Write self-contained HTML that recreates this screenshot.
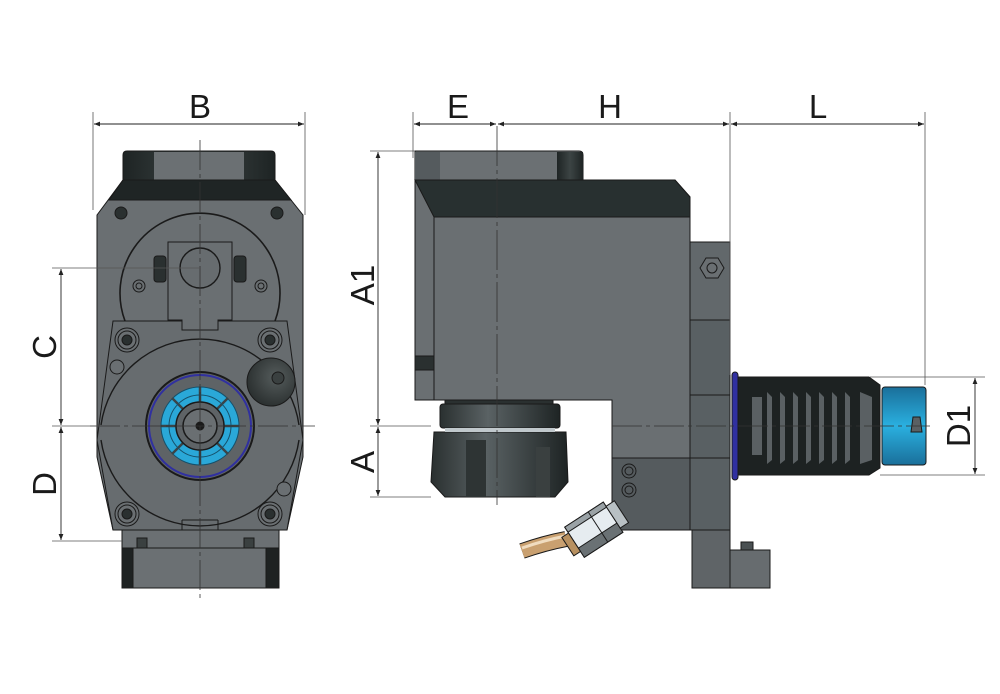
<!DOCTYPE html>
<html><head><meta charset="utf-8"><style>
html,body{margin:0;padding:0;background:#fff;}
svg{display:block;}
text{font-family:"Liberation Sans",sans-serif;fill:#1a1a1a;}
</style></head><body>
<svg width="1000" height="694" viewBox="0 0 1000 694" xmlns="http://www.w3.org/2000/svg">
<defs>
<marker id="ar" viewBox="0 0 10 10" refX="10" refY="5" markerWidth="8" markerHeight="6" orient="auto-start-reverse" markerUnits="userSpaceOnUse"><path d="M0,1 L10,5 L0,9 z" fill="#222"/></marker>
<linearGradient id="side" x1="0" x2="1"><stop offset="0" stop-color="#1e2424"/><stop offset="0.5" stop-color="#3c4444"/><stop offset="1" stop-color="#1e2424"/></linearGradient>
<linearGradient id="nut" x1="0" x2="1"><stop offset="0" stop-color="#2a3030"/><stop offset="0.4" stop-color="#5a6264"/><stop offset="1" stop-color="#1e2424"/></linearGradient>
<linearGradient id="blue" x1="0" y1="0" x2="0" y2="1"><stop offset="0" stop-color="#1a6f9a"/><stop offset="0.5" stop-color="#2ab0e0"/><stop offset="1" stop-color="#1a6f9a"/></linearGradient>
<radialGradient id="knob" cx="0.6" cy="0.4" r="0.7"><stop offset="0" stop-color="#555c5c"/><stop offset="1" stop-color="#262b2b"/></radialGradient>
</defs>

<g stroke="#1a1a1a" stroke-width="1">
<rect x="122" y="530" width="157" height="58" fill="#6b7073"/>
<rect x="122" y="548" width="11" height="40" fill="#1e2222"/>
<rect x="266" y="548" width="13" height="40" fill="#1e2222"/>
<line x1="122" y1="548" x2="279" y2="548"/>
<rect x="137" y="538" width="10" height="10" fill="#3a4040"/>
<rect x="244" y="538" width="10" height="10" fill="#3a4040"/>
<path d="M123,155 Q123,151 127,151 L271,151 Q275,151 275,155 L275,181 L123,181 Z" fill="url(#side)"/>
<rect x="154" y="152" width="90" height="28" fill="#6b7073" stroke="none"/>
<path d="M123,180 L275,180 L303,215 L303,457 L287,530 L113,530 L97,457 L97,215 Z" fill="#6a6f72"/>
<path d="M123,180 L275,180 L291,200 L109,200 Z" fill="#1f2525"/>
<path d="M125,321 A80,80 0 1,1 275,321" fill="none" stroke-width="1.6"/>
<path d="M113,321 L287,321 L303,440 L287,530 L113,530 L97,440 Z" fill="#676c6f" stroke-width="1"/>
<path d="M101,425 A100,100 0 0,1 299,425 M101,440 A100,100 0 0,0 299,440" fill="none" stroke-width="1.4"/>
<path d="M168,242 L232,242 L232,320 L218,320 L218,330 L182,330 L182,320 L168,320 Z" fill="#6a6f72"/>
<circle cx="200" cy="268" r="20" fill="#676c6f" stroke-width="1.4"/>
<rect x="154" y="256" width="12" height="26" rx="3" fill="#2a3030"/>
<rect x="234" y="256" width="12" height="26" rx="3" fill="#2a3030"/>
<circle cx="139" cy="286" r="6" fill="#6a6f72"/><circle cx="139" cy="286" r="3" fill="none"/>
<circle cx="261" cy="286" r="6" fill="#6a6f72"/><circle cx="261" cy="286" r="3" fill="none"/>
<circle cx="121" cy="213" r="6" fill="#2a3030"/>
<circle cx="277" cy="213" r="6" fill="#2a3030"/>
<g fill="#6a6f72">
<circle cx="127" cy="340" r="12"/><circle cx="127" cy="340" r="9"/>
<circle cx="270" cy="340" r="12"/><circle cx="270" cy="340" r="9"/>
<circle cx="127" cy="514" r="12"/><circle cx="127" cy="514" r="9"/>
<circle cx="270" cy="514" r="12"/><circle cx="270" cy="514" r="9"/>
</g>
<g fill="#2a3030">
<circle cx="127" cy="340" r="5"/><circle cx="270" cy="340" r="5"/><circle cx="127" cy="514" r="5"/><circle cx="270" cy="514" r="5"/>
</g>
<circle cx="117" cy="367" r="7" fill="#6a6f72"/>
<circle cx="284" cy="489" r="7" fill="#6a6f72"/>
<circle cx="271" cy="382" r="24" fill="url(#knob)"/>
<circle cx="278" cy="378" r="6" fill="#3a4040"/>
<circle cx="200" cy="426" r="54" fill="#5e6366" stroke-width="2"/>
<circle cx="200" cy="426" r="51" fill="none" stroke="#3030a0" stroke-width="2"/>
<circle cx="200" cy="426" r="39" fill="#2aa8d8" stroke="#15506a"/>
<g stroke="#3a4448" stroke-width="2.5">
<line x1="200" y1="387" x2="200" y2="465"/>
<line x1="161" y1="426" x2="239" y2="426"/>
<line x1="172" y1="398" x2="228" y2="454"/>
<line x1="228" y1="398" x2="172" y2="454"/>
</g>
<circle cx="200" cy="426" r="31" fill="none" stroke="#15506a"/>
<circle cx="200" cy="426" r="24" fill="#5e6366" stroke-width="1.5"/>
<circle cx="200" cy="426" r="17" fill="#6a6f72" stroke-width="1.5"/>
<circle cx="200" cy="426" r="4" fill="#1a1a1a"/>
<path d="M182,520 L182,530 M218,520 L218,530 M182,520 L218,520" fill="none"/>
</g>

<g stroke="#1a1a1a" stroke-width="1">
<path d="M415,151 L579,151 Q583,151 583,155 L583,181 L415,181 Z" fill="#6b7073"/>
<rect x="415" y="152" width="25" height="28" fill="#555b5e" stroke="none"/>
<rect x="557" y="152" width="26" height="28" fill="url(#side)" stroke="none"/>
<rect x="692" y="530" width="38" height="58" fill="#5f6467"/>
<rect x="730" y="550" width="40" height="38" fill="#676c6f"/>
<rect x="741" y="542" width="12" height="8" fill="#4a5052"/>
<path d="M415,180 L675,180 L690,197 L690,530 L612,530 L612,400 L415,400 Z" fill="#6a6f72"/>
<path d="M415,180 L675,180 L690,197 L690,217 L434,217 Z" fill="#283030"/>
<line x1="434" y1="217" x2="434" y2="400"/>
<rect x="415" y="356" width="19" height="14" fill="#2a3030"/>
<rect x="612" y="458" width="78" height="72" fill="#555b5e"/>
<circle cx="629" cy="471" r="7" fill="none"/><circle cx="629" cy="471" r="4" fill="none"/>
<circle cx="629" cy="490" r="7" fill="none"/><circle cx="629" cy="490" r="4" fill="none"/>
<rect x="690" y="242" width="40" height="288" fill="#596063"/>
<rect x="690" y="242" width="40" height="78" fill="#62686b"/>
<line x1="690" y1="395" x2="730" y2="395"/>
<line x1="690" y1="458" x2="730" y2="458"/>
<path d="M700,268 L706,258 L718,258 L724,268 L718,278 L706,278 Z" fill="#6a6f72"/>
<circle cx="712" cy="268" r="5" fill="none"/>
<rect x="445" y="400" width="108" height="5" fill="#2a3030"/>
<rect x="440" y="404" width="120" height="24" rx="3" fill="url(#nut)"/>
<path d="M434,432 L566,432 L568,482 L555,497 L445,497 L431,482 Z" fill="url(#nut)"/>
<rect x="466" y="440" width="20" height="57" fill="#2e3434" stroke="none"/>
<rect x="536" y="447" width="14" height="50" fill="#3a4040" stroke="none"/>
<rect x="445" y="428" width="110" height="4" fill="#c0c8cc" stroke="none"/>
<!-- coolant fitting -->
<path d="M522,551 Q545,543 566,539" fill="none" stroke="#1a1a1a" stroke-width="16"/>
<path d="M522,551 Q545,543 566,539" fill="none" stroke="#c9a070" stroke-width="14"/>
<path d="M522,548 Q545,540 566,536" fill="none" stroke="#f0dcc0" stroke-width="3"/>
<g transform="translate(598,527) rotate(-33)">
<rect x="-28" y="-18" width="46" height="36" fill="#e6ecf0"/>
<rect x="-28" y="7" width="46" height="11" fill="#6a7174"/>
<rect x="-28" y="-18" width="46" height="6" fill="#9aa2a6"/>
<line x1="0" y1="-18" x2="0" y2="18"/>
<rect x="18" y="-13" width="10" height="26" fill="#b8c0c4"/>
<rect x="-36" y="-11" width="8" height="22" fill="#b79060"/>
</g>
<rect x="732" y="372" width="6" height="108" rx="3" fill="#3030a0"/>
<path d="M738,377 L869,377 L880,385 L880,468 L869,475 L738,475 Z" fill="#1d2222"/>
<rect x="752" y="397" width="10" height="58" fill="#5a6063" stroke="none"/>
<g fill="#5a6063" stroke="none">
<path d="M767,392 L772,397 L772,460 L767,464 Z"/><path d="M780,392 L785,397 L785,460 L780,464 Z"/>
<path d="M793,392 L798,397 L798,460 L793,464 Z"/><path d="M806,392 L811,397 L811,460 L806,464 Z"/>
<path d="M819,392 L824,397 L824,460 L819,464 Z"/><path d="M832,392 L837,397 L837,460 L832,464 Z"/>
<path d="M845,392 L850,397 L850,460 L845,464 Z"/><path d="M860,392 L872,397 L872,460 L860,464 Z"/>
</g>
<rect x="882" y="387" width="44" height="78" rx="3" fill="url(#blue)"/>
<path d="M913,417 L920,417 L922,432 L911,432 Z" fill="#5a6063"/>
</g>

<g stroke="#333" stroke-width="0.8" fill="none">
<line x1="200" y1="140" x2="200" y2="598" stroke-dasharray="30,4,4,4"/>
<line x1="90" y1="426" x2="315" y2="426" stroke-dasharray="30,4,4,4"/>
<line x1="497" y1="126" x2="497" y2="505" stroke-dasharray="40,4,4,4"/>
<line x1="612" y1="426" x2="930" y2="426" stroke-dasharray="30,4,4,4"/>
</g>

<g stroke="#555" stroke-width="0.8" fill="none">
<line x1="93" y1="112" x2="93" y2="210"/>
<line x1="305" y1="112" x2="305" y2="215"/>
<line x1="413" y1="112" x2="413" y2="158"/>
<line x1="730" y1="112" x2="730" y2="375"/>
<line x1="925" y1="112" x2="925" y2="385"/>
<line x1="370" y1="151" x2="415" y2="151"/>
<line x1="370" y1="497" x2="431" y2="497"/>
<line x1="370" y1="426" x2="431" y2="426"/>
<line x1="52" y1="268" x2="200" y2="268"/>
<line x1="52" y1="426" x2="100" y2="426"/>
<line x1="52" y1="541" x2="122" y2="541"/>
<line x1="870" y1="377" x2="985" y2="377"/>
<line x1="880" y1="475" x2="985" y2="475"/>
</g>
<g stroke="#222" stroke-width="0.9" fill="none" marker-start="url(#ar)" marker-end="url(#ar)">
<line x1="94" y1="124" x2="304" y2="124"/>
<line x1="414" y1="124" x2="496" y2="124"/>
<line x1="498" y1="124" x2="729" y2="124"/>
<line x1="731" y1="124" x2="924" y2="124"/>
<line x1="378" y1="152" x2="378" y2="425"/>
<line x1="378" y1="427" x2="378" y2="496"/>
<line x1="61" y1="269" x2="61" y2="425"/>
<line x1="61" y1="427" x2="61" y2="540"/>
<line x1="975" y1="378" x2="975" y2="474"/>
</g>
<g font-size="33" text-anchor="middle">
<text x="200" y="118">B</text>
<text x="458" y="118">E</text>
<text x="610" y="118">H</text>
<text x="818" y="118">L</text>
<text transform="translate(374,285) rotate(-90)">A1</text>
<text transform="translate(374,462) rotate(-90)">A</text>
<text transform="translate(56,347) rotate(-90)">C</text>
<text transform="translate(56,484) rotate(-90)">D</text>
<text transform="translate(970,426) rotate(-90)">D1</text>
</g>
</svg>
</body></html>
